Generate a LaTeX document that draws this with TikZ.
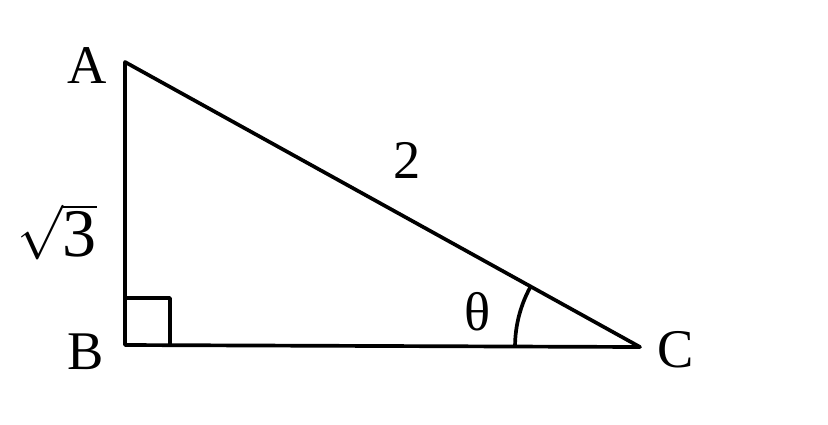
\documentclass[tikz,border=0pt]{standalone}
\usepackage{fontspec}
\setmainfont{Liberation Serif}
\usetikzlibrary{angles}

\begin{document}
\begin{tikzpicture}[
      x=0.02cm, y=-0.02cm,
      edge/.style={line width=2.1pt, line join=round},
      lbl/.style={font=\fontsize{31}{36}\selectfont, inner sep=0pt}]
    \useasboundingbox (0,0) rectangle (828,424);
    \coordinate (A) at (125,62);
    \coordinate (B) at (125,345);
    \coordinate (C) at (640,347);
    \coordinate (sqtop) at (125,298);
    \coordinate (sqright) at (170,345);
    \draw[edge] (A) -- (B) -- (C) -- cycle;
    \draw[edge] (sqtop) -| (sqright);
    \pic[draw, line width=2.1pt, angle radius=2.5cm] {angle = A--C--B};

    \node[lbl] (labA) at (87,66) {A};
    \node[lbl] (labB) at (86,352) {B};
    \node[lbl] (labC) at (676,350) {C};
    \node[lbl] (hyp) at (407,160) {2};
    \node[lbl] (leg) at (57,232) {\scalebox{1.25}{$\sqrt{\mbox{3}}$}};
    \node[lbl] (ang) at (478,312) {θ};
  \end{tikzpicture}
\end{document}
